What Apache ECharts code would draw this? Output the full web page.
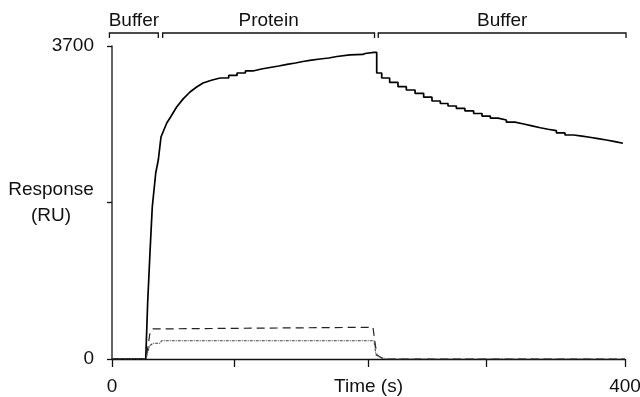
<!DOCTYPE html>
<html lang="en">
<head>
  <meta charset="UTF-8">
  <title>SPR sensorgram</title>
  <style>
    html, body { margin: 0; padding: 0; background: #fff; }
    #main { width: 640px; height: 397px; }
  </style>
  <script src="https://cdn.jsdelivr.net/npm/echarts@6/dist/echarts.min.js"></script>
</head>
<body>
  <div id="main"></div>
  <script>
    // protein binding curve (time in s, response in RU)
    const solidTime = [0, 26.3, 27.8, 29.6, 31.4, 34.1, 36.1, 38.2, 42.7, 45.2, 50.4, 55.5, 60.8, 66, 71, 77.5, 84.2, 91, 97.5, 104, 109.9, 116.5, 123.2, 130, 136.5, 143, 148.9, 155.5, 162.2, 169, 175.4, 185.5, 195.7, 197.3, 204.3, 206.4, 210.3, 216.5, 223, 229.5, 236.3, 243, 249.5, 256, 262, 268.5, 275.2, 282, 288.5, 295, 301, 307.5, 314.2, 321, 327.5, 334, 340, 346.5, 353.2, 360, 366.5, 372.5, 379, 385.5, 392.2, 398.4];
    const solidResp = [0, 0, 662, 1253, 1797, 2199, 2352, 2624, 2790, 2849, 2979, 3075, 3156, 3215, 3263, 3295, 3322, 3352, 3381, 3405, 3428, 3446, 3464, 3482, 3499, 3517, 3534, 3546, 3558, 3576, 3594, 3600, 3611, 3625, 3625, 3381, 3322, 3270, 3219, 3180, 3141, 3095, 3050, 3020, 2991, 2962, 2932, 2902, 2872, 2848, 2825, 2800, 2778, 2756, 2734, 2716, 2699, 2672, 2648, 2635, 2621, 2605, 2589, 2570, 2550, 2542];
    // dashed reference curve
    const dashTime = [0, 26.5, 28.1, 29.6, 32, 33.5, 203.5, 205.1, 206.6, 210.5, 215.2, 400];
    const dashResp = [0, 0, 150, 307, 355, 375, 375, 190, 47, 12, 0, 0];
    // dotted reference curve
    const dotTime = [0, 26.5, 28.1, 29.6, 32, 37.4, 38.6, 204.3, 205.8, 210.5, 215.2, 400];
    const dotResp = [0, 0, 95, 160, 186, 186, 216, 216, 47, 12, 0, 0];
    // phase brackets along the top
    const phaseStart = [-2, 39.5, 207.6];
    const phaseEnd = [36.1, 204.7, 400.8];
    const phaseLabel = ['Buffer', 'Protein', 'Buffer'];
    const xTicks = [0, 95, 200, 292, 400];
    const xLabels = [0, 400];

    const FONT = '"Liberation Sans", Arial, sans-serif';
    const FS = 19;
    const INK = '#111';
    const pair = (t, r) => t.map((v, i) => [v, r[i]]);
    // the fast rise is drawn as a plain line, the rest as the instrument's stepped trace
    const RISE_END = 16;
    const solidPairs = pair(solidTime, solidResp);

    const chart = echarts.init(document.getElementById('main'));
    chart.setOption({
      animation: false,
      grid: { left: 112, right: 15, top: 46, bottom: 38, outerBoundsMode: 'none' },
      xAxis: {
        type: 'value', min: 0, max: 400, offset: 9,
        name: 'Time (s)', nameLocation: 'middle', nameGap: 9, nameMoveOverlap: false,
        nameTextStyle: { fontFamily: FONT, fontSize: FS, color: INK, verticalAlign: 'top' },
        axisLine: { lineStyle: { color: INK, width: 1.3 } },
        axisTick: { length: 8, customValues: xTicks, lineStyle: { color: INK, width: 1.3 } },
        axisLabel: { customValues: xLabels, margin: 9, fontFamily: FONT, fontSize: FS, color: INK },
        splitLine: { show: false }
      },
      yAxis: {
        type: 'value', min: 0, max: 3700, interval: 1850, offset: 10,
        name: 'Response\n(RU)', nameLocation: 'middle', nameRotate: 0, nameGap: 51, nameMoveOverlap: false,
        nameTextStyle: { fontFamily: FONT, fontSize: FS, color: INK, align: 'center', lineHeight: 26 },
        axisLine: { show: true, lineStyle: { color: '#333', width: 1.5 } },
        axisTick: { show: true, length: 5, lineStyle: { color: INK, width: 1.3 } },
        axisLabel: {
          margin: 8, fontFamily: FONT, fontSize: FS, color: INK,
          formatter: v => (v === 1850 ? '' : v)
        },
        splitLine: { show: false }
      },
      series: [
        {
          type: 'line', data: solidPairs.slice(0, RISE_END + 1),
          symbol: 'none', lineStyle: { color: '#000', width: 1.7 }
        },
        {
          type: 'line', data: solidPairs.slice(RISE_END), step: 'end',
          symbol: 'none', lineStyle: { color: '#000', width: 1.7 }
        },
        {
          type: 'line', data: pair(dashTime, dashResp),
          symbol: 'none', lineStyle: { color: '#222', width: 1.2, type: [8, 5] }
        },
        {
          type: 'line', data: pair(dotTime, dotResp),
          symbol: 'none', lineStyle: { color: '#444', width: 1.1, type: [3, 1, 1, 1] }
        },
        {
          type: 'custom', silent: true, clip: false,
          encode: { x: [0, 1] },
          data: phaseStart.map((s, i) => [s, phaseEnd[i]]),
          renderItem: function (params, api) {
            const x0 = api.coord([api.value(0), 0])[0];
            const x1 = api.coord([api.value(1), 0])[0];
            const y = params.coordSys.y - 13;
            return {
              type: 'group',
              children: [
                {
                  type: 'polyline',
                  shape: { points: [[x0, y + 5], [x0, y], [x1, y], [x1, y + 5]] },
                  style: { stroke: INK, fill: null, lineWidth: 1.3 }
                },
                {
                  type: 'text',
                  style: {
                    text: phaseLabel[params.dataIndex], x: (x0 + x1) / 2, y: y - 3,
                    align: 'center', verticalAlign: 'bottom',
                    font: FS + 'px ' + FONT, fill: INK
                  }
                }
              ]
            };
          }
        }
      ]
    });
  </script>
</body>
</html>
